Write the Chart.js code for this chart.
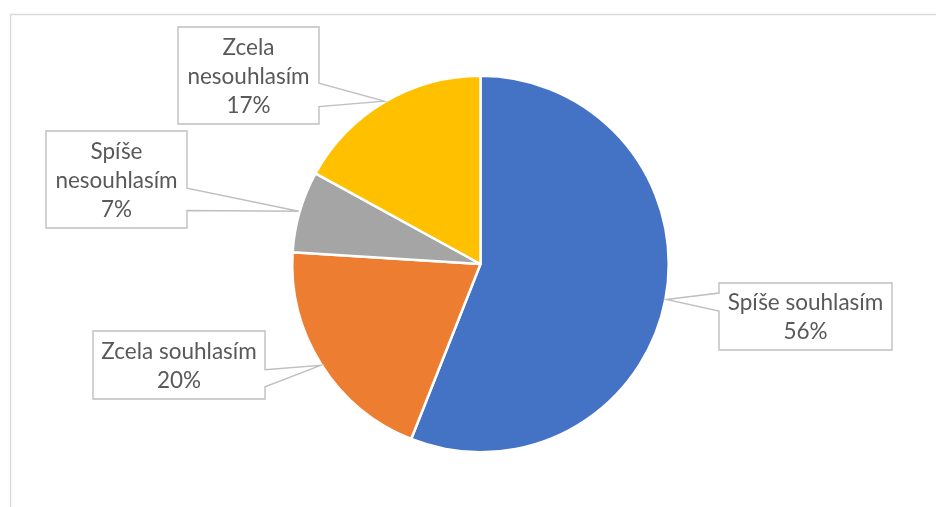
<!DOCTYPE html>
<html>
<head>
<meta charset="utf-8">
<script src="https://cdn.jsdelivr.net/npm/chart.js@4"></script>
<style>
  html, body { margin: 0; padding: 0; background: #fff; }
  #wrap { position: relative; width: 936px; height: 507px; }
</style>
</head>
<body>
<div id="wrap"><canvas id="chart"></canvas></div>
<script>
  var categories = ['Spíše souhlasím', 'Zcela souhlasím', 'Spíše nesouhlasím', 'Zcela nesouhlasím'];
  var shares = [56, 20, 7, 17];
  var colors = ['#4472C4', '#ED7D31', '#A5A5A5', '#FFC000'];

  // callout box placement (center x, center y, width, height) and where the
  // pointer leaves the box edge (fractions along that edge)
  var callouts = [
    { cx: 805.5, cy: 316.5, w: 173, h: 67, wedge: [0.15, 0.42] },
    { cx: 179, cy: 365, w: 172, h: 68, wedge: [0.57, 0.82] },
    { cx: 116.5, cy: 179.5, w: 141, h: 97, wedge: [0.59, 0.82] },
    { cx: 248.5, cy: 75.5, w: 141, h: 97, wedge: [0.58, 0.82] }
  ];

  var FONT = '22.5px Lato';
  var LINE_H = 29;

  function wrapText(ctx, text, maxW) {
    var words = text.split(' ');
    var lines = [];
    var cur = '';
    words.forEach(function (w) {
      var test = cur ? cur + ' ' + w : w;
      if (cur && ctx.measureText(test).width > maxW) {
        lines.push(cur);
        cur = w;
      } else {
        cur = test;
      }
    });
    if (cur) lines.push(cur);
    return lines;
  }

  var framePlugin = {
    id: 'frame',
    beforeDraw: function (chart) {
      var ctx = chart.ctx;
      ctx.save();
      ctx.strokeStyle = '#d9d9d9';
      ctx.lineWidth = 1.3;
      ctx.beginPath();
      ctx.moveTo(10.5, chart.height);
      ctx.lineTo(10.5, 14.5);
      ctx.lineTo(chart.width, 14.5);
      ctx.stroke();
      ctx.restore();
    }
  };

  var calloutPlugin = {
    id: 'callouts',
    afterDatasetsDraw: function (chart) {
      var ctx = chart.ctx;
      var meta = chart.getDatasetMeta(0);
      ctx.save();
      ctx.font = FONT;
      meta.data.forEach(function (arc, i) {
        var p = arc.getProps(['x', 'y', 'startAngle', 'endAngle', 'outerRadius'], true);
        var mid = (p.startAngle + p.endAngle) / 2;
        var tx = p.x + Math.cos(mid) * (p.outerRadius + 1);
        var ty = p.y + Math.sin(mid) * (p.outerRadius + 1);
        var c = callouts[i];
        var l = c.cx - c.w / 2, r = c.cx + c.w / 2;
        var t = c.cy - c.h / 2, b = c.cy + c.h / 2;
        var y1 = t + c.h * c.wedge[0], y2 = t + c.h * c.wedge[1];

        ctx.beginPath();
        if (tx > r) {
          ctx.moveTo(l, t);
          ctx.lineTo(r, t);
          ctx.lineTo(r, y1);
          ctx.lineTo(tx, ty);
          ctx.lineTo(r, y2);
          ctx.lineTo(r, b);
          ctx.lineTo(l, b);
        } else {
          ctx.moveTo(r, t);
          ctx.lineTo(r, b);
          ctx.lineTo(l, b);
          ctx.lineTo(l, y2);
          ctx.lineTo(tx, ty);
          ctx.lineTo(l, y1);
          ctx.lineTo(l, t);
        }
        ctx.closePath();
        ctx.fillStyle = '#ffffff';
        ctx.fill();
        ctx.strokeStyle = '#BFBFBF';
        ctx.lineWidth = 1.4;
        ctx.lineJoin = 'miter';
        ctx.stroke();

        var lines = wrapText(ctx, categories[i], c.w - 12);
        lines.push(shares[i] + '%');
        ctx.fillStyle = '#595959';
        ctx.textAlign = 'center';
        ctx.textBaseline = 'middle';
        var y0 = c.cy - (lines.length - 1) * LINE_H / 2;
        lines.forEach(function (s, k) {
          ctx.fillText(s, c.cx, y0 + k * LINE_H + 1);
        });
      });
      ctx.restore();
    }
  };

  new Chart(document.getElementById('chart'), {
    type: 'pie',
    data: {
      labels: categories,
      datasets: [{
        data: shares,
        backgroundColor: colors,
        borderColor: '#ffffff',
        borderWidth: 2.5
      }]
    },
    options: {
      responsive: true,
      maintainAspectRatio: false,
      animation: false,
      layout: { padding: { top: 74.5, bottom: 53.5, left: 25, right: 0 } },
      plugins: {
        legend: { display: false },
        tooltip: { enabled: false }
      }
    },
    plugins: [framePlugin, calloutPlugin]
  });
</script>
</body>
</html>
